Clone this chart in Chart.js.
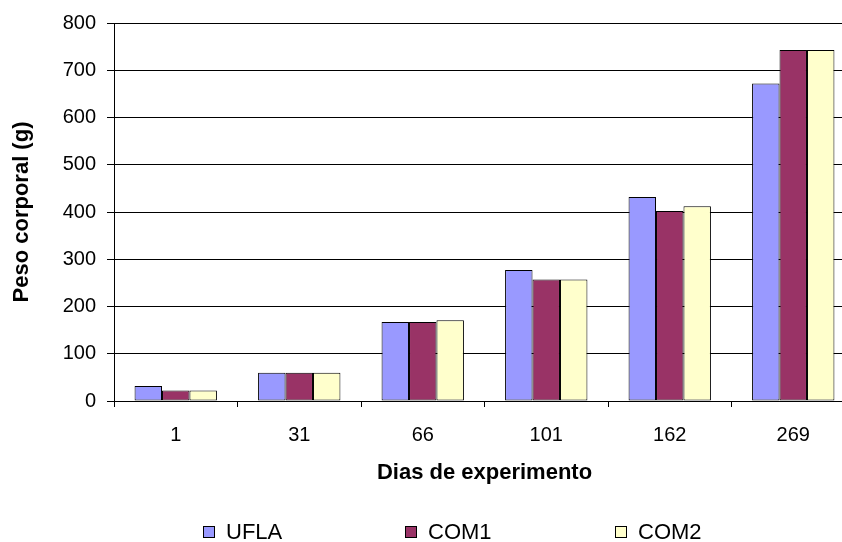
<!DOCTYPE html>
<html>
<head>
<meta charset="utf-8">
<script src="https://cdn.jsdelivr.net/npm/chart.js@4/dist/chart.umd.min.js"></script>
<style>
  html, body { margin: 0; padding: 0; background: #fff; overflow: hidden; }
  #wrap { position: relative; width: 842px; height: 542px; overflow: hidden; }
  #box { position: absolute; left: 0; top: 0; width: 860px; height: 542px; }
  #legenda { position: absolute; top: 519px; left: 0; width: 842px; height: 26px;
    font-family: "Liberation Sans", Arial, sans-serif; font-size: 22px; color: #000; line-height: 26px; }
  .item { position: absolute; top: 0; display: flex; align-items: center; height: 26px; }
  .cuadro { width: 10px; height: 10px; border: 1px solid #000; margin-right: 11px; }
</style>
</head>
<body>
<div id="wrap">
  <div id="box"><canvas id="grafico" width="860" height="542"></canvas></div>
  <div id="legenda"></div>
</div>
<script>
const dias = ['1', '31', '66', '101', '162', '269'];
const ufla = [32, 60, 167, 277, 432, 672];
const com1 = [22, 60, 167, 257, 402, 743];
const com2 = [22, 60, 171, 257, 412, 743];
const nombres = ['UFLA', 'COM1', 'COM2'];
const colores = ['#9999FF', '#993366', '#FFFFCC'];
const posLegenda = [203, 405, 615];

const fuente = '"Liberation Sans", Arial, sans-serif';

const series = [ufla, com1, com2];
const datasets = series.map((valores, i) => ({
    label: nombres[i],
    data: valores,
    backgroundColor: colores[i],
    borderColor: '#000',
    borderWidth: 1,
    borderSkipped: false,
    categoryPercentage: 0.667,
    barPercentage: 1.0
}));

// leyenda en html
const legenda = document.getElementById('legenda');
nombres.forEach((n, i) => {
    const d = document.createElement('div');
    d.className = 'item';
    d.style.left = posLegenda[i] + 'px';
    d.innerHTML = `<span class="cuadro" style="background:${colores[i]}"></span><span>${n}</span>`;
    legenda.appendChild(d);
});

const ctx = document.getElementById('grafico').getContext('2d');
new Chart(ctx, {
    type: 'bar',
    data: { labels: dias, datasets: datasets },
    options: {
        responsive: false,
        animation: false,
        layout: { padding: { top: 23, right: 5, left: 0, bottom: 0 } },
        plugins: { legend: { display: false }, tooltip: { enabled: false } },
        scales: {
            x: {
                grid: { offset: true, drawOnChartArea: false, color: '#000', tickLength: 6, lineWidth: 1 },
                border: { color: '#000', width: 1 },
                ticks: { color: '#000', font: { family: fuente, size: 20 }, padding: 16, maxRotation: 0 },
                title: { display: true, text: 'Dias de experimento', color: '#000',
                    font: { family: fuente, size: 22, weight: 'bold' }, padding: { top: 4, bottom: 56 } },
                afterFit: (s) => { s.height = 141; }
            },
            y: {
                min: 0, max: 800,
                ticks: { stepSize: 100, color: '#000', font: { family: fuente, size: 20 }, padding: 11 },
                grid: { color: '#000', tickLength: 7, lineWidth: 1 },
                border: { color: '#000', width: 1 },
                title: { display: true, text: 'Peso corporal (g)', color: '#000',
                    font: { family: fuente, size: 22, weight: 'bold' }, padding: { top: 9, bottom: 4 } },
                afterFit: (s) => { s.width = 114; }
            }
        }
    }
});
</script>
</body>
</html>
